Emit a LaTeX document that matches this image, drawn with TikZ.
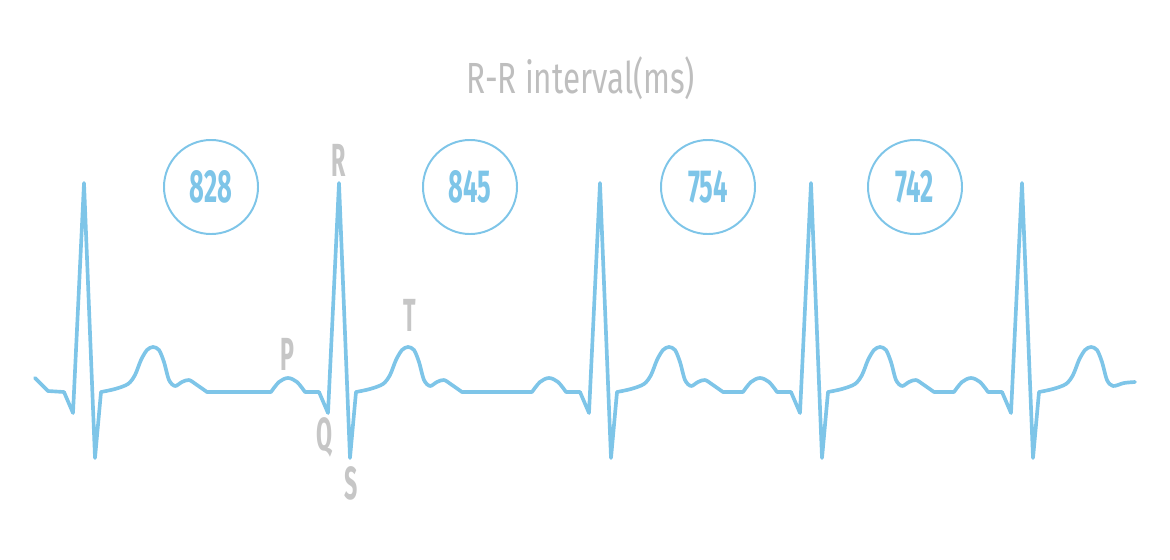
\documentclass[tikz,border=0pt]{standalone}
\usepackage{fontspec}
\newfontfamily\headfont[FakeStretch=0.72]{Fira Sans}
\newfontfamily\tagfont[FakeStretch=0.55]{Fira Sans}
\newfontfamily\letterfont[FakeStretch=0.5]{Fira Sans}
\definecolor{ecgblue}{RGB}{126,197,232}
\definecolor{headgray}{RGB}{190,190,190}
\definecolor{wavegray}{RGB}{198,198,198}

\begin{document}
\begin{tikzpicture}[
  x=0.025cm,y=-0.025cm,
  trace/.style={draw=ecgblue,line width=2.6pt,line join=round,line cap=round},
  rrbox/.style={circle,draw=ecgblue,line width=1.4pt,minimum size=2.35cm,inner sep=0pt,
    font=\tagfont\bfseries\fontsize{33}{34}\selectfont,text=ecgblue},
  wavetag/.style={font=\letterfont\bfseries\fontsize{33}{34}\selectfont,text=wavegray,inner sep=0pt},
  title/.style={font=\headfont\fontsize{31}{32}\selectfont,text=headgray,inner sep=0pt},
]
\useasboundingbox (0,0) rectangle (1170,559);

\node[title,anchor=base] (head) at (581,93) {R-R interval(ms)};

\foreach \x/\ms [count=\i] in {211/828,470/845,708/754,915/742}
  \node[rrbox] (rr\i) at (\x,187) {\ms};

\draw[trace] plot[smooth,tension=0.55] coordinates {(35,378) (41,384) (48,391)} -- (64,392);

\foreach \r/\rn in {84/339,339/600,600/811,811/1022} {
  \draw[trace] (\r-20,392) -- (\r-11,413) -- (\r,183) -- (\r+11,458) -- (\r+17,392)
    -- plot[smooth,tension=0.5] coordinates {(\r+17,392) (\r+31,389) (\r+44,384) (\r+51,375)
      (\r+57,360) (\r+63,350) (\r+69,347) (\r+75,350) (\r+80,362) (\r+85,380) (\r+91,386)
      (\r+98,382) (\r+105,380) (\r+113,385) (\r+123,392)}
    -- (\rn-68,392)
    -- plot[smooth,tension=0.55] coordinates {(\rn-68,392) (\rn-60,382) (\rn-51,378)
      (\rn-42,382) (\rn-34,392)}
    -- (\rn-20,392);
}

\draw[trace] (1002,392) -- (1011,413) -- (1022,183) -- (1033,458) -- (1039,392)
  -- plot[smooth,tension=0.5] coordinates {(1039,392) (1053,389) (1066,384) (1073,375)
    (1079,360) (1085,350) (1091,347) (1097,350) (1102,362) (1107,380) (1113,386)
    (1124,383) (1135,382)};

\node[wavetag] (lblR) at (339,160) {R};
\node[wavetag] (lblP) at (287,354) {P};
\node[wavetag] (lblQ) at (325,437) {Q};
\node[wavetag] (lblS) at (351,483) {S};
\node[wavetag] (lblT) at (410,315) {T};

\end{tikzpicture}
\end{document}
